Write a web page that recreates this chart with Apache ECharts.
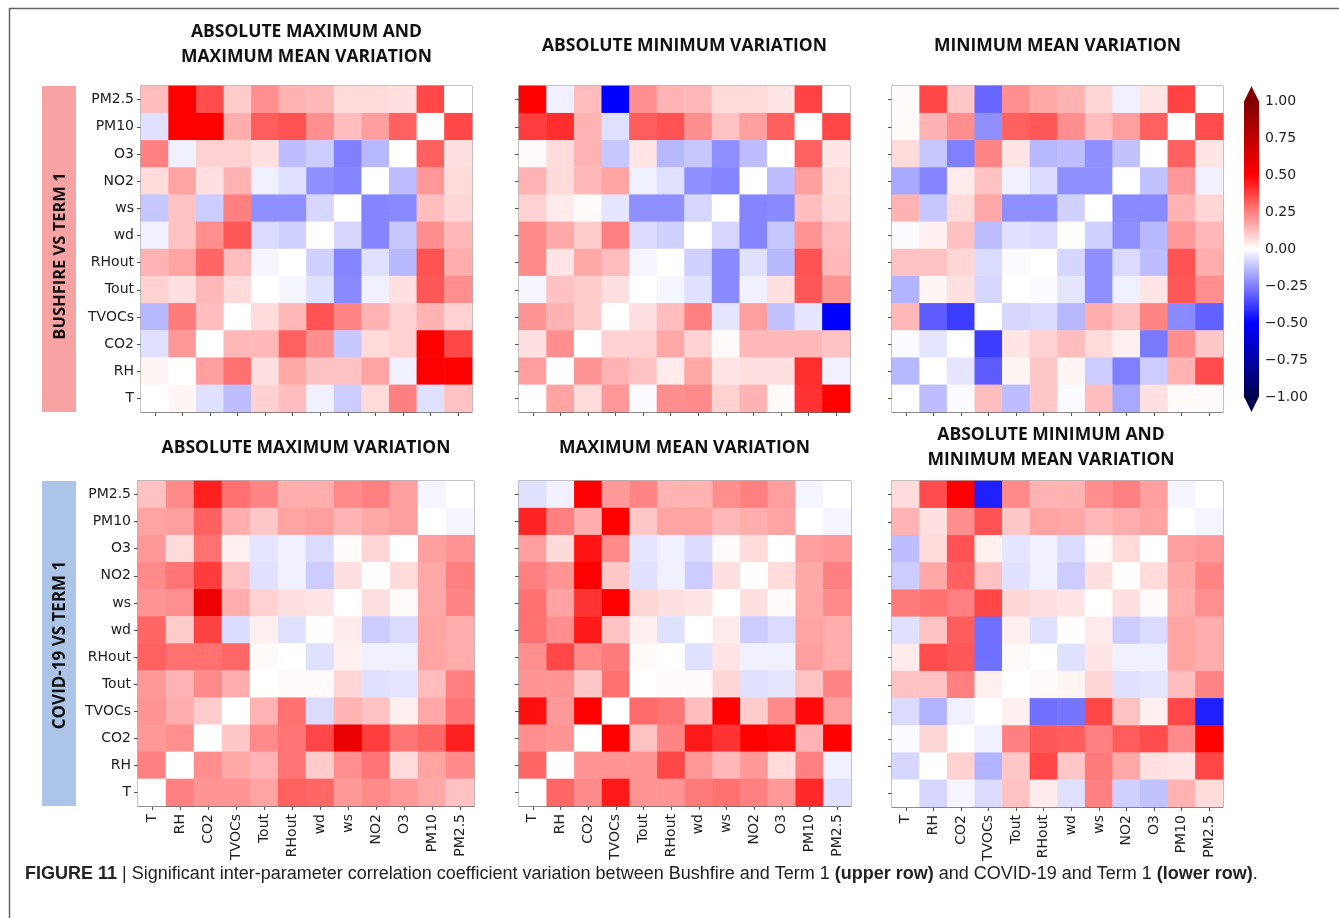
<!DOCTYPE html>
<html>
<head>
<meta charset="utf-8">
<script src="https://cdn.jsdelivr.net/npm/echarts@6/dist/echarts.min.js"></script>
<style>
html,body{margin:0;padding:0;background:#fff;}
#chart{width:1339px;height:918px;}
</style>
</head>
<body>
<div id="chart"></div>
<script>
// Axis categories
const xLabels = ['T','RH','CO2','TVOCs','Tout','RHout','wd','ws','NO2','O3','PM10','PM2.5'];
const yLabels = ['PM2.5','PM10','O3','NO2','ws','wd','RHout','Tout','TVOCs','CO2','RH','T']; // top to bottom
const colorbarTicks = [-1, -0.75, -0.5, -0.25, 0, 0.25, 0.5, 0.75, 1];

const panelTitles = [
  'ABSOLUTE MAXIMUM AND\nMAXIMUM MEAN VARIATION',
  'ABSOLUTE MINIMUM VARIATION',
  'MINIMUM MEAN VARIATION',
  'ABSOLUTE MAXIMUM VARIATION',
  'MAXIMUM MEAN VARIATION',
  'ABSOLUTE MINIMUM AND\nMINIMUM MEAN VARIATION'
];
const rowTitles = ['BUSHFIRE VS TERM 1', 'COVID-19 VS TERM 1'];

// Rows listed top to bottom (yLabels order), columns left to right (xLabels order)
const bushfireAbsMaxAndMaxMean = [
  [0.13, 0.5, 0.35, 0.1, 0.22, 0.15, 0.14, 0.07, 0.07, 0.06, 0.36, 0],
  [-0.06, 0.5, 0.5, 0.16, 0.32, 0.34, 0.22, 0.13, 0.19, 0.31, 0, 0.36],
  [0.25, -0.03, 0.09, 0.09, 0.06, -0.13, -0.1, -0.25, -0.14, 0, 0.31, 0.06],
  [0.07, 0.18, 0.06, 0.15, -0.03, -0.06, -0.22, -0.24, 0, -0.13, 0.2, 0.07],
  [-0.11, 0.12, -0.1, 0.25, -0.22, -0.22, -0.08, 0, -0.24, -0.23, 0.13, 0.08],
  [-0.03, 0.12, 0.22, 0.33, -0.07, -0.09, 0, -0.08, -0.24, -0.11, 0.22, 0.14],
  [0.15, 0.18, 0.3, 0.13, -0.02, 0, -0.09, -0.24, -0.06, -0.14, 0.34, 0.16],
  [0.09, 0.06, 0.14, 0.07, 0, -0.02, -0.06, -0.23, -0.03, 0.06, 0.33, 0.22],
  [-0.14, 0.26, 0.13, 0, 0.07, 0.14, 0.34, 0.24, 0.15, 0.09, 0.15, 0.09],
  [-0.06, 0.2, 0, 0.14, 0.14, 0.31, 0.22, -0.11, 0.07, 0.09, 0.5, 0.36],
  [0.02, 0, 0.19, 0.28, 0.06, 0.17, 0.12, 0.12, 0.18, -0.03, 0.5, 0.5],
  [0, 0.02, -0.06, -0.13, 0.09, 0.13, -0.03, -0.1, 0.07, 0.25, -0.06, 0.12]
];
const bushfireAbsMin = [
  [0.5, -0.03, 0.13, -0.5, 0.22, 0.15, 0.14, 0.07, 0.07, 0.05, 0.37, 0],
  [0.38, 0.41, 0.15, -0.06, 0.32, 0.34, 0.22, 0.12, 0.19, 0.31, 0, 0.36],
  [0.01, 0.07, 0.15, -0.11, 0.05, -0.14, -0.11, -0.22, -0.13, 0, 0.31, 0.05],
  [0.15, 0.07, 0.14, 0.18, -0.03, -0.06, -0.22, -0.24, 0, -0.13, 0.19, 0.07],
  [0.09, 0.04, 0.01, -0.05, -0.22, -0.22, -0.08, 0, -0.24, -0.23, 0.13, 0.08],
  [0.23, 0.17, 0.1, 0.25, -0.07, -0.09, 0, -0.08, -0.24, -0.11, 0.21, 0.13],
  [0.23, 0.05, 0.17, 0.13, -0.02, 0, -0.09, -0.23, -0.06, -0.14, 0.34, 0.14],
  [-0.02, 0.12, 0.1, 0.06, 0, -0.02, -0.06, -0.23, -0.03, 0.06, 0.33, 0.21],
  [0.21, 0.15, 0.1, 0, 0.06, 0.13, 0.25, -0.05, 0.19, -0.12, -0.05, -0.5],
  [0.06, 0.22, 0, 0.09, 0.09, 0.17, 0.09, 0.01, 0.14, 0.14, 0.14, 0.12],
  [0.19, 0, 0.21, 0.15, 0.12, 0.04, 0.17, 0.05, 0.06, 0.06, 0.41, -0.03],
  [0, 0.18, 0.07, 0.2, -0.01, 0.22, 0.23, 0.09, 0.15, 0.01, 0.4, 0.5]
];
const bushfireMinMean = [
  [0.01, 0.36, 0.11, -0.3, 0.22, 0.17, 0.15, 0.08, -0.03, 0.05, 0.37, 0],
  [0.01, 0.15, 0.22, -0.22, 0.31, 0.33, 0.22, 0.13, 0.19, 0.31, 0, 0.35],
  [0.07, -0.11, -0.25, 0.24, 0.05, -0.14, -0.13, -0.22, -0.12, 0, 0.31, 0.05],
  [-0.17, -0.24, 0.04, 0.12, -0.03, -0.07, -0.22, -0.22, 0, -0.12, 0.2, -0.03],
  [0.15, -0.11, 0.07, 0.17, -0.22, -0.22, -0.09, 0, -0.23, -0.23, 0.15, 0.08],
  [-0.01, 0.03, 0.12, -0.13, -0.06, -0.07, 0, -0.09, -0.22, -0.14, 0.2, 0.14],
  [0.12, 0.12, 0.08, -0.07, -0.01, 0, -0.08, -0.22, -0.07, -0.13, 0.34, 0.16],
  [-0.15, 0.02, 0.06, -0.08, 0, -0.01, -0.05, -0.22, -0.03, 0.05, 0.33, 0.22],
  [0.14, -0.32, -0.38, 0, -0.08, -0.07, -0.14, 0.16, 0.12, 0.24, -0.23, -0.31],
  [-0.01, -0.05, 0, -0.38, 0.05, 0.09, 0.13, 0.07, 0.03, -0.26, 0.22, 0.11],
  [-0.14, 0, -0.05, -0.32, 0.02, 0.11, 0.02, -0.1, -0.25, -0.1, 0.15, 0.35],
  [0, -0.13, -0.01, 0.13, -0.13, 0.11, -0.01, 0.13, -0.17, 0.06, 0.01, 0.01]
];
const covidAbsMax = [
  [0.12, 0.23, 0.44, 0.28, 0.24, 0.16, 0.16, 0.23, 0.25, 0.19, -0.02, 0],
  [0.18, 0.19, 0.31, 0.16, 0.11, 0.18, 0.19, 0.15, 0.17, 0.19, 0, -0.02],
  [0.2, 0.07, 0.28, 0.03, -0.05, -0.03, -0.07, 0.01, 0.08, 0, 0.19, 0.21],
  [0.23, 0.27, 0.38, 0.12, -0.06, -0.03, -0.1, 0.06, 0, 0.07, 0.17, 0.25],
  [0.21, 0.22, 0.57, 0.16, 0.09, 0.06, 0.05, 0, 0.06, 0.01, 0.17, 0.24],
  [0.3, 0.1, 0.37, -0.07, 0.03, -0.06, 0, 0.04, -0.1, -0.07, 0.18, 0.16],
  [0.31, 0.28, 0.28, 0.3, 0.01, 0, -0.06, 0.03, -0.03, -0.03, 0.18, 0.16],
  [0.2, 0.15, 0.23, 0.16, 0, 0.01, 0.01, 0.08, -0.06, -0.05, 0.13, 0.25],
  [0.21, 0.16, 0.1, 0, 0.15, 0.28, -0.07, 0.15, 0.12, 0.03, 0.17, 0.27],
  [0.2, 0.22, 0, 0.11, 0.23, 0.27, 0.36, 0.58, 0.38, 0.27, 0.3, 0.44],
  [0.25, 0, 0.22, 0.17, 0.15, 0.27, 0.1, 0.22, 0.27, 0.07, 0.18, 0.23],
  [0, 0.25, 0.21, 0.21, 0.18, 0.31, 0.3, 0.2, 0.23, 0.2, 0.17, 0.12]
];
const covidMaxMean = [
  [-0.06, -0.03, 0.5, 0.2, 0.24, 0.15, 0.15, 0.22, 0.25, 0.19, -0.02, 0],
  [0.43, 0.25, 0.16, 0.5, 0.11, 0.18, 0.18, 0.14, 0.16, 0.18, 0, -0.02],
  [0.19, 0.07, 0.46, 0.23, -0.05, -0.03, -0.07, 0.01, 0.07, 0, 0.19, 0.2],
  [0.25, 0.21, 0.5, 0.11, -0.06, -0.03, -0.1, 0.06, 0, 0.07, 0.17, 0.25],
  [0.28, 0.18, 0.4, 0.5, 0.08, 0.06, 0.05, 0, 0.06, 0.01, 0.17, 0.23],
  [0.28, 0.22, 0.45, 0.12, 0.03, -0.06, 0, 0.04, -0.1, -0.07, 0.18, 0.16],
  [0.22, 0.36, 0.23, 0.26, 0.01, 0, -0.06, 0.05, -0.03, -0.03, 0.19, 0.16],
  [0.21, 0.21, 0.11, 0.28, 0, 0.01, 0.01, 0.08, -0.06, -0.05, 0.12, 0.24],
  [0.47, 0.2, 0.5, 0, 0.29, 0.27, 0.13, 0.5, 0.1, 0.23, 0.48, 0.19],
  [0.22, 0.21, 0, 0.5, 0.12, 0.24, 0.45, 0.4, 0.5, 0.48, 0.15, 0.5],
  [0.3, 0, 0.21, 0.21, 0.21, 0.36, 0.2, 0.14, 0.2, 0.07, 0.25, -0.03],
  [0, 0.3, 0.23, 0.45, 0.21, 0.21, 0.26, 0.28, 0.25, 0.2, 0.42, -0.06]
];
const covidAbsMinAndMinMean = [
  [0.07, 0.35, 0.5, -0.44, 0.23, 0.15, 0.15, 0.22, 0.25, 0.19, -0.02, 0],
  [0.15, 0.06, 0.22, 0.34, 0.11, 0.18, 0.17, 0.14, 0.16, 0.18, 0, -0.02],
  [-0.13, 0.07, 0.34, 0.03, -0.05, -0.03, -0.07, 0.01, 0.07, 0, 0.19, 0.2],
  [-0.1, 0.17, 0.31, 0.12, -0.06, -0.03, -0.1, 0.06, 0, 0.07, 0.17, 0.24],
  [0.26, 0.28, 0.25, 0.36, 0.08, 0.06, 0.05, 0, 0.06, 0.01, 0.16, 0.22],
  [-0.06, 0.12, 0.32, -0.28, 0.03, -0.06, 0, 0.04, -0.1, -0.07, 0.18, 0.16],
  [0.04, 0.35, 0.33, -0.28, 0.01, 0, -0.06, 0.05, -0.03, -0.03, 0.18, 0.16],
  [0.12, 0.12, 0.25, 0.03, 0, 0.01, 0.02, 0.08, -0.06, -0.05, 0.13, 0.24],
  [-0.07, -0.15, -0.03, 0, 0.03, -0.28, -0.27, 0.36, 0.12, 0.03, 0.36, -0.44],
  [-0.01, 0.08, 0, -0.03, 0.25, 0.33, 0.32, 0.25, 0.32, 0.35, 0.23, 0.5],
  [-0.08, 0, 0.09, -0.15, 0.11, 0.36, 0.11, 0.26, 0.17, 0.06, 0.05, 0.36],
  [0, -0.08, -0.02, -0.07, 0.12, 0.04, -0.06, 0.25, -0.09, -0.12, 0.15, 0.07]
];

const matrices = [bushfireAbsMaxAndMaxMean, bushfireAbsMin, bushfireMinMean, covidAbsMax, covidMaxMean, covidAbsMinAndMinMean];

const grids = [
  {left: 141, top: 86, width: 331, height: 326},
  {left: 519, top: 86, width: 331, height: 326},
  {left: 892, top: 86, width: 331, height: 326},
  {left: 138, top: 481, width: 336, height: 325},
  {left: 519, top: 481, width: 332, height: 325},
  {left: 892, top: 481, width: 331, height: 326},
  {left: 1244, top: 101, width: 15, height: 296}
];

const tickFont = 'DejaVu Sans';
const xAxes = [], yAxes = [], series = [];
for (let i = 0; i < 6; i++) {
  const bottomRow = i >= 3, leftCol = (i % 3) === 0;
  xAxes.push({
    type: 'category', gridIndex: i, data: xLabels, position: 'bottom',
    axisLine: {show: true, lineStyle: {color: '#666', width: 1}},
    axisTick: {show: true, alignWithLabel: true, length: 4, lineStyle: {color: '#555'}},
    axisLabel: {show: bottomRow, rotate: 90, margin: 8, fontSize: 14, fontFamily: tickFont, color: '#222', interval: 0},
    splitLine: {show: false}, splitArea: {show: false}
  });
  yAxes.push({
    type: 'category', gridIndex: i, data: yLabels, inverse: true,
    axisLine: {show: true, lineStyle: {color: '#666', width: 1}},
    axisTick: {show: true, alignWithLabel: true, length: 4, lineStyle: {color: '#555'}},
    axisLabel: {show: leftCol, margin: 7, fontSize: 14, fontFamily: tickFont, color: '#222', interval: 0},
    splitLine: {show: false}, splitArea: {show: false}
  });
  const data = [];
  matrices[i].forEach((row, r) => row.forEach((v, c) => data.push([c, r, v])));
  series.push({
    type: 'heatmap', xAxisIndex: i, yAxisIndex: i, data: data,
    itemStyle: {borderWidth: 0}, emphasis: {disabled: true}, progressive: 0, animation: false
  });
}
// colorbar axes
xAxes.push({type: 'value', gridIndex: 6, min: 0, max: 1, show: false});
yAxes.push({
  type: 'value', gridIndex: 6, min: -1, max: 1, interval: 0.25, position: 'right',
  axisLine: {show: false},
  axisTick: {show: true, length: 4, lineStyle: {color: '#444'}},
  splitLine: {show: false},
  axisLabel: {show: true, margin: 6, fontSize: 14, fontFamily: tickFont, color: '#222',
    formatter: v => (v < 0 ? '\u2212' : '') + Math.abs(v).toFixed(2)}
});
series.push({
  type: 'custom', xAxisIndex: 6, yAxisIndex: 6, data: [[0.5, 0]], silent: true, animation: false,
  renderItem: function (params, api) {
    const p0 = api.coord([0, colorbarTicks[colorbarTicks.length - 1]]);
    const p1 = api.coord([1, colorbarTicks[0]]);
    const x0 = p0[0], y0 = p0[1], x1 = p1[0], y1 = p1[1];
    const mid = (x0 + x1) / 2;
    return {type: 'group', children: [
      {type: 'rect', shape: {x: x0, y: y0, width: x1 - x0, height: y1 - y0},
        style: {fill: new echarts.graphic.LinearGradient(0, 0, 0, 1, [
          {offset: 0, color: '#800000'}, {offset: 0.25, color: '#ff0000'},
          {offset: 0.5, color: '#ffffff'}, {offset: 0.75, color: '#0000ff'},
          {offset: 1, color: '#00004d'}])}},
      {type: 'polygon', shape: {points: [[x0, y0 + 0.5], [x1, y0 + 0.5], [mid, y0 - 15]]}, style: {fill: '#800000'}},
      {type: 'polygon', shape: {points: [[x0, y1 - 0.5], [x1, y1 - 0.5], [mid, y1 + 15]]}, style: {fill: '#00004d'}}
    ]};
  }
});

const titleFont = 'Open Sans';
const titleCenters = [[306.5, 45], [684.5, 46], [1057.5, 46], [306, 448], [684.5, 448], [1051, 448]];
const graphics = [
  {type: 'line', shape: {x1: 9, y1: 8.5, x2: 1339, y2: 8.5}, style: {stroke: '#666', lineWidth: 1.5}},
  {type: 'line', shape: {x1: 9.5, y1: 8, x2: 9.5, y2: 918}, style: {stroke: '#666', lineWidth: 1.5}},
  {type: 'rect', shape: {x: 42, y: 86, width: 34, height: 326}, style: {fill: '#f8a3a3'}},
  {type: 'rect', shape: {x: 42, y: 481, width: 34, height: 325}, style: {fill: '#adc4e9'}},
  {type: 'text', x: 60, y: 256, rotation: Math.PI / 2,
    style: {text: rowTitles[0], fontFamily: titleFont, fontWeight: 'bold', fontSize: 16.5, fill: '#111', align: 'center', verticalAlign: 'middle'}},
  {type: 'text', x: 60, y: 645, rotation: Math.PI / 2,
    style: {text: rowTitles[1], fontFamily: titleFont, fontWeight: 'bold', fontSize: 17, fill: '#111', align: 'center', verticalAlign: 'middle'}},
  {type: 'text', x: 25, y: 874,
    style: {
      text: '{b|FIGURE 11} | Significant inter-parameter correlation coefficient variation between Bushfire and Term 1 {b|(upper row)} and COVID-19 and Term 1 {b|(lower row)}.',
      fontFamily: 'Liberation Sans', fontSize: 18, fill: '#222', verticalAlign: 'middle',
      rich: {b: {fontFamily: 'Liberation Sans', fontSize: 18, fontWeight: 'bold', fill: '#222'}}
    }}
];
panelTitles.forEach((t, i) => {
  graphics.push({type: 'text', x: titleCenters[i][0], y: titleCenters[i][1],
    style: {text: t, fontFamily: titleFont, fontWeight: 'bold', fontSize: 17.5, lineHeight: 25, fill: '#111', align: 'center', verticalAlign: 'middle'}});
});

const chart = echarts.init(document.getElementById('chart'), null, {renderer: 'canvas'});
chart.setOption({
  backgroundColor: '#ffffff',
  animation: false,
  grid: grids.map((g, i) => Object.assign({show: i < 6, borderColor: '#666', borderWidth: 1, backgroundColor: 'transparent', containLabel: false}, g)),
  xAxis: xAxes,
  yAxis: yAxes,
  visualMap: {
    type: 'continuous', show: false, min: -1, max: 1, seriesIndex: [0, 1, 2, 3, 4, 5],
    inRange: {color: ['#00004d', '#0000ff', '#ffffff', '#ff0000', '#800000']}
  },
  series: series,
  graphic: graphics
});
</script>
</body>
</html>
